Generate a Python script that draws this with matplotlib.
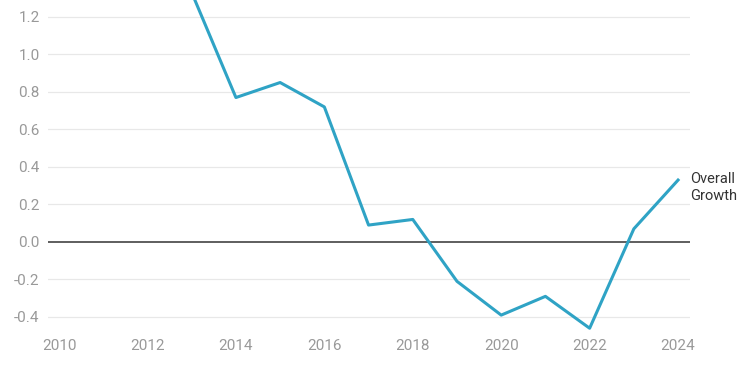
import numpy as np
from matplotlib import pyplot as plt

plt.rcParams['font.family'] = ['Roboto', 'DejaVu Sans']

# datos
years = [2013, 2014, 2015, 2016, 2017, 2018, 2019, 2020, 2021, 2022, 2023, 2024]
growth = [1.33, 0.77, 0.85, 0.72, 0.09, 0.12, -0.21, -0.39, -0.29, -0.46, 0.07, 0.33]
yticks = [-0.4, -0.2, 0.0, 0.2, 0.4, 0.6, 0.8, 1.0, 1.2]
xticks = [2010, 2012, 2014, 2016, 2018, 2020, 2022, 2024]

fig = plt.figure(figsize=(7.5, 3.75), dpi=100)
ax = fig.add_axes([0.064, 0.1147, 0.856, 0.8853])

ax.set_xlim(2009.75, 2024.27)
ax.set_ylim(-0.48, 1.29)

for t in yticks:
    if t == 0:
        ax.axhline(0, color='#333333', lw=1.1, zorder=2)
    else:
        ax.axhline(t, color='#e8e8e8', lw=0.9, zorder=1)

ax.plot(years, growth, color='#2fa3c5', lw=2.2, zorder=3, clip_on=True)

ax.text(2024.28, 0.29, 'Overall\nGrowth', fontsize=10.5, color='#333333',
        va='center', ha='left', linespacing=1.2)

ax.set_yticks(yticks)
ax.set_yticklabels(['%.1f' % t if t >= 0 else '-%.1f' % abs(t) for t in yticks])
ax.set_xticks(xticks)
ax.set_xticklabels([str(x) for x in xticks])
ax.tick_params(length=0, colors='#999999', labelsize=11)
ax.tick_params(axis='y', pad=6)
ax.tick_params(axis='x', pad=5)
for s in ax.spines.values():
    s.set_visible(False)

fig.savefig('out.png', dpi=100)
